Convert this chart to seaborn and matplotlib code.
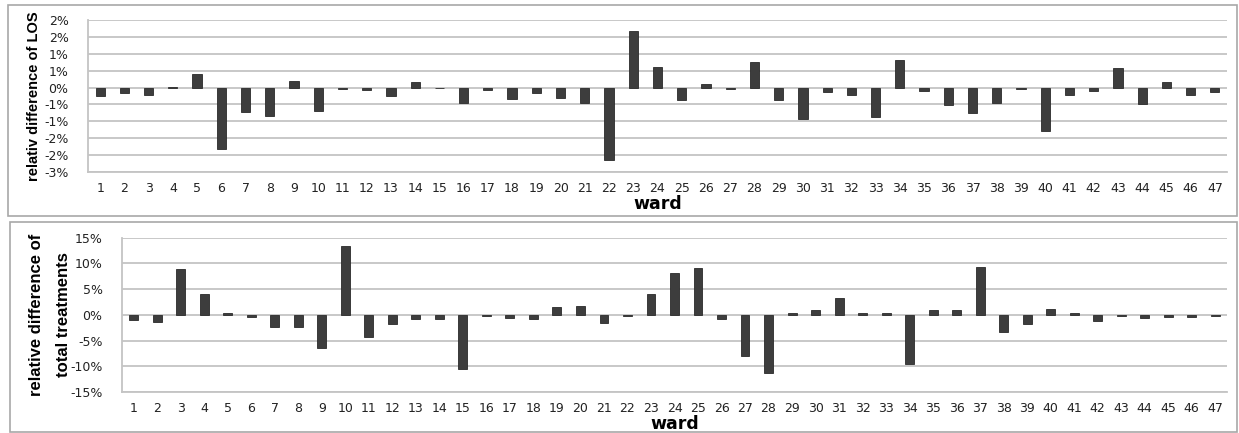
import numpy as np
import pandas as pd
import matplotlib
matplotlib.use("Agg")
import matplotlib.pyplot as plt
from matplotlib.patches import Rectangle
from matplotlib.ticker import FuncFormatter
import seaborn as sns

# ward numbers and relative differences (in percent)
wards = list(range(1, 48))
los_diff = [-0.26, -0.15, -0.23, 0.01, 0.39, -1.82, -0.73, -0.85, 0.19, -0.70,
            -0.03, -0.06, -0.26, 0.16, -0.02, -0.45, -0.06, -0.34, -0.16, -0.31,
            -0.45, -2.15, 1.68, 0.62, -0.36, 0.12, -0.03, 0.77, -0.36, -0.92,
            -0.13, -0.21, -0.87, 0.83, -0.10, -0.53, -0.74, -0.45, -0.03, -1.30,
            -0.21, -0.10, 0.59, -0.50, 0.15, -0.21, -0.13]
treat_diff = [-0.97, -1.4, 9.0, 4.1, 0.3, -0.45, -2.4, -2.4, -6.5, 13.4,
              -4.3, -1.8, -0.85, -0.85, -10.6, -0.25, -0.6, -0.85, 1.5, 1.7,
              -1.55, -0.2, 4.1, 8.1, 9.2, -0.8, -8.0, -11.4, 0.4, 1.0,
              3.3, 0.3, 0.3, -9.6, 1.0, 1.0, 9.4, -3.35, -1.7, 1.15,
              0.3, -1.1, -0.2, -0.6, -0.45, -0.5, -0.2]

los_ticks = [-2.5, -2.0, -1.5, -1.0, -0.5, 0.0, 0.5, 1.0, 1.5, 2.0]
treat_ticks = [-15, -10, -5, 0, 5, 10, 15]

df = pd.DataFrame({"ward": wards, "los": los_diff, "treat": treat_diff})

sns.set_theme(style="white")
plt.rcParams["font.family"] = ["DejaVu Sans"]

BAR = "#3d3d3d"
GRID = "#c4c4c4"
TXT = "#222222"
LABEL_FONT = ["Liberation Sans", "DejaVu Sans"]


def excel_pct(v, pos):
    # Excel "0%" rounds half away from zero
    r = np.sign(v) * np.floor(abs(v) + 0.5 + 1e-9)
    return f"{int(r)}%"


fig = plt.figure(figsize=(12.39, 4.33), dpi=100)

# panel frames
fig.add_artist(Rectangle((8 / 1239, 1 - 216 / 433), 1229 / 1239, 211 / 433,
                         transform=fig.transFigure, fill=False,
                         edgecolor="#a8a8a8", linewidth=1.2))
fig.add_artist(Rectangle((10 / 1239, 0.002), 1227 / 1239, 1 - 223 / 433,
                         transform=fig.transFigure, fill=False,
                         edgecolor="#a8a8a8", linewidth=1.2))

ax1 = fig.add_axes([88 / 1239, 1 - 172 / 433, 1139 / 1239, 152 / 433])
ax2 = fig.add_axes([122 / 1239, 1 - 392 / 433, 1105 / 1239, 154.3 / 433])

for ax, col, ticks in [(ax1, "los", los_ticks), (ax2, "treat", treat_ticks)]:
    sns.barplot(data=df, x="ward", y=col, color=BAR, width=0.38,
                edgecolor="#2a2a2a", linewidth=0.6, saturation=1, ax=ax)
    ax.set_ylim(ticks[0], ticks[-1])
    ax.set_xlim(-0.5, len(wards) - 0.5)
    ax.set_yticks(ticks)
    ax.yaxis.grid(True, color=GRID, linewidth=1.3)
    ax.set_axisbelow(True)
    for s in ["top", "right"]:
        ax.spines[s].set_visible(False)
    ax.spines["left"].set_color(GRID)
    ax.spines["left"].set_linewidth(1.3)
    ax.spines["bottom"].set_color(GRID)
    ax.spines["bottom"].set_linewidth(1.3)
    ax.tick_params(axis="both", length=0, labelsize=9, labelcolor=TXT)
    ax.tick_params(axis="x", pad=7)
    ax.tick_params(axis="y", pad=14)
    ax.set_xlabel("ward", fontsize=12.5, fontweight="bold", color="black",
                  labelpad=0)

ax1.yaxis.set_major_formatter(FuncFormatter(excel_pct))
ax2.yaxis.set_major_formatter(FuncFormatter(lambda v, p: f"{int(round(v))}%"))

ax1.set_ylabel("relativ difference of LOS", fontsize=10.5, fontweight="bold",
               family=LABEL_FONT, color="black")
ax1.yaxis.set_label_coords((41 - 88) / 1139, 0.5)
ax2.set_ylabel("relative difference of\ntotal treatments", fontsize=12,
               fontweight="bold", family=LABEL_FONT, color="black",
               linespacing=2.0)
ax2.yaxis.set_label_coords((71 - 122) / 1105, 0.5)

fig.savefig("out.png", dpi=100)
